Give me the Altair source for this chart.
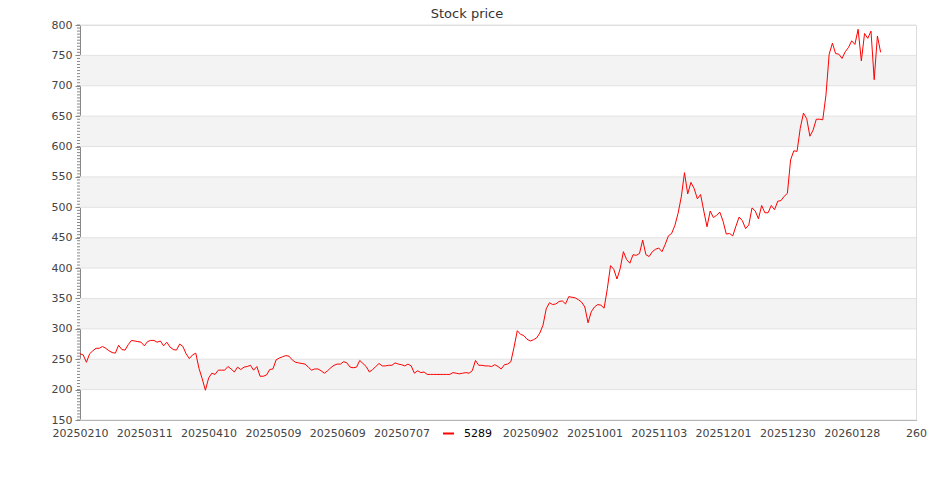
import altair as alt
import pandas as pd

title_text = "Stock price"
series_name = "5289"

prices = [
    259, 257, 245, 259, 264, 268, 268, 271, 268, 264,
    261, 260, 273, 266, 265, 274, 281, 280, 279, 278,
    272, 279, 281, 281, 278, 280, 272, 278, 270, 266,
    265, 275, 271, 259, 251, 257, 260, 235, 218, 199,
    219, 227, 225, 232, 232, 232, 238, 234, 229, 237,
    233, 237, 238, 240, 232, 238, 222, 222, 224, 233,
    234, 249, 252, 254, 256, 255, 249, 245, 244, 243,
    242, 237, 232, 234, 234, 231, 227, 231, 236, 240,
    242, 242, 246, 244, 237, 236, 237, 248, 243, 238,
    229, 233, 238, 243, 239, 239, 240, 240, 244, 242,
    241, 239, 242, 239, 227, 231, 228, 229, 225, 225,
    225, 225, 225, 225, 225, 225, 228, 227, 226, 227,
    228, 227, 231, 248, 240, 240, 239, 239, 238, 241,
    238, 234, 241, 242, 246, 270, 297, 291, 289, 283,
    280, 282, 285, 293, 306, 333, 343, 340, 341, 345,
    346, 341, 353, 352, 351, 348, 344, 336, 310, 328,
    336, 340, 339, 334, 366, 404, 398, 382, 399, 427,
    414, 408, 422, 421, 424, 446, 422, 419, 427, 431,
    433, 427, 439, 453, 457, 470, 490, 517, 557, 522,
    541, 531, 514, 521, 494, 468, 494, 483, 487, 492,
    477, 456, 457, 453, 469, 484, 478, 465, 471, 499,
    494, 481, 503, 491, 491, 503, 496, 510, 511, 518,
    523, 578, 593, 592, 630, 655, 646, 617, 627, 645,
    645, 644, 685, 752, 770, 753, 752, 745, 756, 763,
    774, 768, 793, 741, 786, 778, 790, 710, 782, 755,
]

x_tick_labels = [
    "20250210", "20250311", "20250410", "20250509", "20250609",
    "20250707", "20250805", "20250902", "20251001", "20251103",
    "20251201", "20251230", "20260128", "260",
]
x_tick_step = 20
y_major = list(range(150, 801, 50))
y_minor = list(range(150, 801, 5))
band_starts = [200, 300, 400, 500, 600, 700]
band_height = 50

W, H = 836, 395

df = pd.DataFrame({"idx": list(range(len(prices))), "price": prices, "series": series_name})
bands = pd.DataFrame({"lo": band_starts, "hi": [b + band_height for b in band_starts]})
grid = pd.DataFrame({"v": y_major})
minor = pd.DataFrame({"v": y_minor})

x_max = x_tick_step * (len(x_tick_labels) - 1)
yscale = alt.Scale(domain=[150, 800], nice=False, zero=False)
xscale = alt.Scale(domain=[0, x_max], nice=False, zero=False)

label_arr = "[" + ",".join("'" + s + "'" for s in x_tick_labels) + "]"

yaxis = alt.Axis(
    values=y_major, grid=False, title="", tickSize=5, tickColor="#888888",
    domainColor="#888888", labelColor="#444444", labelFontSize=11,
    labelPadding=3, labelFont="DejaVu Sans",
)
xaxis = alt.Axis(
    values=list(range(0, x_max + 1, x_tick_step)),
    labelExpr=label_arr + "[round(datum.value/" + str(x_tick_step) + ")]",
    grid=False, title="", ticks=False, domainColor="#888888",
    labelColor="#444444", labelFontSize=11, labelPadding=7,
    labelFont="DejaVu Sans", labelOverlap=False, labelFlush=False,
)

band_layer = alt.Chart(bands).mark_rect(color="#f3f3f3").encode(
    x=alt.value(0), x2=alt.value(W),
    y=alt.Y("lo:Q", scale=yscale, axis=yaxis), y2="hi:Q",
)

grid_layer = alt.Chart(grid).mark_rule(color="#e2e2e2", strokeWidth=1).encode(
    x=alt.value(0), x2=alt.value(W),
    y=alt.Y("v:Q", scale=yscale, axis=yaxis),
)

minor_layer = alt.Chart(minor).mark_rule(color="#888888", strokeWidth=1).encode(
    x=alt.value(-3), x2=alt.value(0),
    y=alt.Y("v:Q", scale=yscale, axis=yaxis),
)

line_layer = alt.Chart(df).mark_line(strokeWidth=1).encode(
    x=alt.X("idx:Q", scale=xscale, axis=xaxis),
    y=alt.Y("price:Q", scale=yscale, axis=yaxis),
    color=alt.Color(
        "series:N",
        scale=alt.Scale(range=["#ff0000"]),
        legend=alt.Legend(
            title=None, orient="none", legendX=357, legendY=397,
            fillColor="white", padding=5, symbolType="stroke",
            symbolStrokeWidth=2, symbolSize=121, labelFontSize=11,
            labelColor="#000000", labelOffset=9, labelFont="DejaVu Sans",
        ),
    ),
)

chart = alt.layer(band_layer, grid_layer, minor_layer, line_layer).properties(
    width=W, height=H,
    padding={"left": 72, "top": 17, "right": 11, "bottom": 60},
    autosize="none",
    title=alt.TitleParams(
        title_text, anchor="middle", fontSize=13, fontWeight="normal",
        color="#333333", font="DejaVu Sans", dx=-31, offset=-2,
    ),
).configure_view(strokeWidth=0).configure(font="DejaVu Sans")

chart.save("out.html", embed_options={"renderer": "svg", "actions": False})
